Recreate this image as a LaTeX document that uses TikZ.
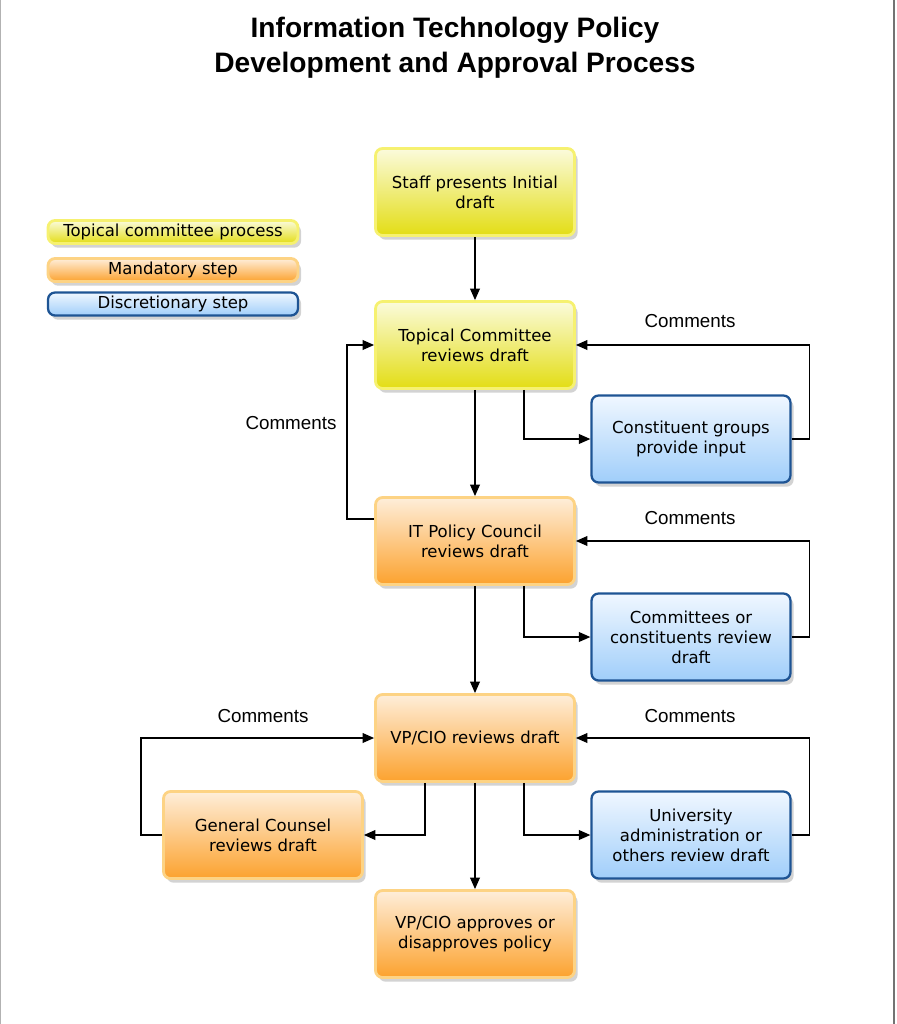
\documentclass[tikz,border=0pt]{standalone}
\usepackage{fontspec}
\setmainfont{DejaVu Sans}
\newfontfamily\helv{Liberation Sans}
\usetikzlibrary{arrows.meta,shadows}
\definecolor{ylwtop}{HTML}{FBFBDC}
\definecolor{ylwbot}{HTML}{E3DD14}
\definecolor{ylwln}{HTML}{F6F170}
\definecolor{orgtop}{HTML}{FEEEDA}
\definecolor{orgbot}{HTML}{FCA22E}
\definecolor{orgln}{HTML}{FDD384}
\definecolor{blutop}{HTML}{F0F7FF}
\definecolor{blubot}{HTML}{A0CEFA}
\definecolor{bluln}{HTML}{1E5494}

\begin{document}
\begin{tikzpicture}[x=0.02cm,y=-0.02cm,
  every node/.style={font=\fontsize{9.4}{11.3}\selectfont},
  box/.style={rounded corners=4pt,minimum width=3.98cm,minimum height=1.74cm,align=center,
    drop shadow={opacity=0.35,shadow xshift=1.8pt,shadow yshift=-2.4pt}},
  topic/.style={box,draw=ylwln,line width=1.6pt,top color=ylwtop,bottom color=ylwbot},
  mand/.style={box,draw=orgln,line width=1.6pt,top color=orgtop,bottom color=orgbot},
  disc/.style={box,draw=bluln,line width=1.3pt,top color=blutop,bottom color=blubot},
  key/.style={minimum width=5.0cm,minimum height=0.46cm,rounded corners=4pt,inner sep=0pt},
  arr/.style={line width=0.8pt,-{Triangle[length=6.5pt,width=5.5pt]}},
  cmt/.style={font=\helv\fontsize{10.7}{12}\selectfont}]
\useasboundingbox (0,0) rectangle (896,1024);
% page edges
\draw[black!30,line width=0.6pt] (0.5,0) -- (0.5,1024);
\draw[black!55,line width=1.2pt] (894,0) -- (894,1024);
%------------- title
\node[font=\helv\bfseries\fontsize{16}{19.8}\selectfont,align=center] (title) at (455,48)
  {Information Technology Policy\\Development and Approval Process};
%------------- legend
\node[topic,key] (keytopic) at (173,232) {Topical committee process};
\node[mand,key] (keymand) at (173,270) {Mandatory step};
\node[disc,key] (keydisc) at (173,304) {Discretionary step};
%------------- main column
\node[topic] (staff) at (475,192) {Staff presents Initial\\draft};
\node[topic] (topical) at (475,345) {Topical Committee\\reviews draft};
\node[mand] (council) at (475,541) {IT Policy Council\\reviews draft};
\node[mand] (vpreview) at (475,738) {VP/CIO reviews draft};
\node[mand] (vpapprove) at (475,934) {VP/CIO approves or\\disapproves policy};
%------------- side boxes
\node[disc] (constit) at (691,439) {Constituent groups\\provide input};
\node[disc] (cmtees) at (691,637) {Committees or\\constituents review\\draft};
\node[disc] (univ) at (691,835) {University\\administration or\\others review draft};
\node[mand] (counsel) at (263,835) {General Counsel\\reviews draft};
%------------- comment labels
\node[cmt] (cmtA) at (690,321) {Comments};
\node[cmt] (cmtB) at (291,423) {Comments};
\node[cmt] (cmtC) at (690,518) {Comments};
\node[cmt] (cmtD) at (690,716) {Comments};
\node[cmt] (cmtE) at (263,716) {Comments};
%------------- flow
\draw[arr] (staff) -- (topical);
\draw[arr] (topical) -- (council);
\draw[arr] (council) -- (vpreview);
\draw[arr] (vpreview) -- (vpapprove);
% out to discretionary steps and back
\draw[arr] ([xshift=0.98cm]topical.south) |- (constit.west);
\draw[arr] (constit.east) -- ++(18,0) |- (topical.east);
\draw[arr] ([xshift=0.98cm]council.south) |- (cmtees.west);
\draw[arr] (cmtees.east) -- ++(18,0) |- (council.east);
\draw[arr] ([xshift=0.98cm]vpreview.south) |- (univ.west);
\draw[arr] (univ.east) -- ++(18,0) |- (vpreview.east);
% council comments back to topical committee
\draw[arr] ([yshift=0.44cm]council.west) -- ++(-27,0) |- (topical.west);
% general counsel
\draw[arr] ([xshift=-1cm]vpreview.south) |- (counsel.east);
\draw[arr] (counsel.west) -- ++(-21,0) |- (vpreview.west);
\end{tikzpicture}
\end{document}
